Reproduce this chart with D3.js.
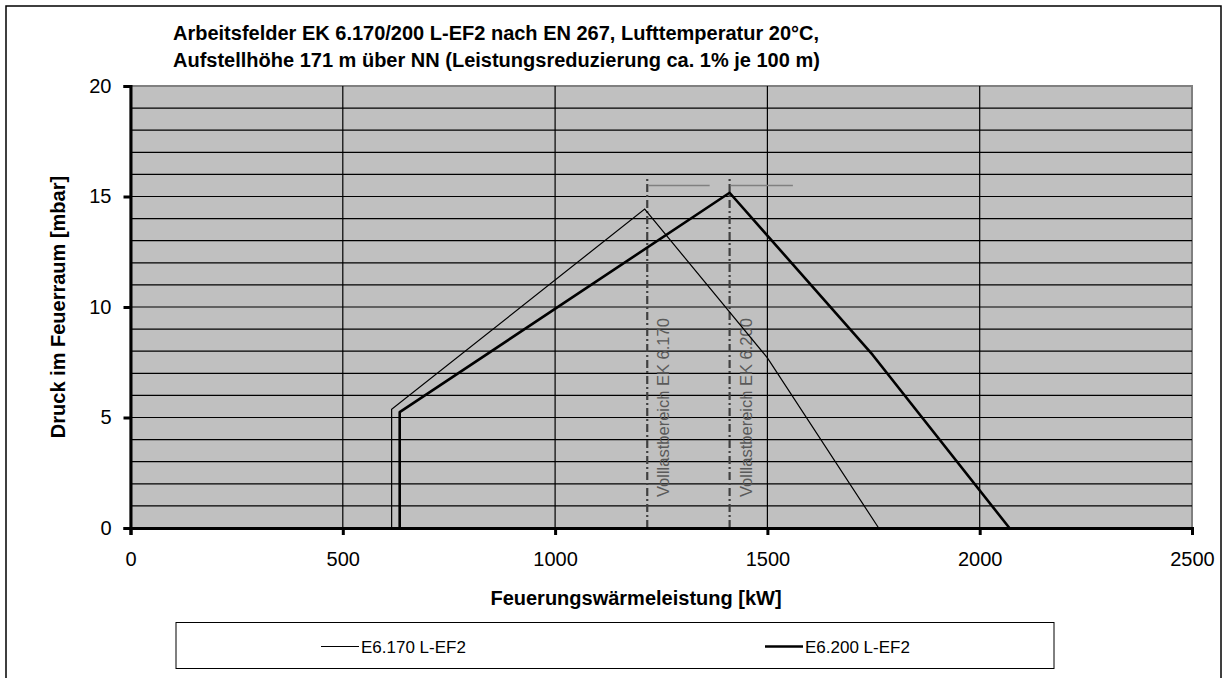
<!DOCTYPE html>
<html><head><meta charset="utf-8">
<script src="https://cdn.jsdelivr.net/npm/d3@7"></script>
<style>body{margin:0;background:#fff;font-family:"Liberation Sans",Arial,sans-serif}</style>
</head><body><svg id="c" width="1225" height="678"></svg>
<script>
const titleLines = ["Arbeitsfelder EK 6.170/200 L-EF2 nach EN 267, Lufttemperatur 20°C,",
  "Aufstellhöhe 171 m über NN (Leistungsreduzierung ca. 1% je 100 m)"];
const xTicks = [0, 500, 1000, 1500, 2000, 2500];
const yTicks = [0, 5, 10, 15, 20];
const yGrid = d3.range(0, 21, 1);
const seriesNames = ["E6.170 L-EF2", "E6.200 L-EF2"];
const e170x = [615, 615, 1211, 1500, 1762];
const e170y = [0, 5.37, 14.43, 7.7, 0];
const e200x = [634, 634, 1411, 1748, 2070];
const e200y = [0, 5.24, 15.17, 7.83, 0];
const fullLoadX = [1217, 1411];
const fullLoadLabels = ["Volllastbereich EK 6.170", "Volllastbereich EK 6.200"];
const fullLoadTop = 15.85;
const capY = 15.5;
const capEnd = [1364, 1560];

const svg = d3.select("#c");
const x = d3.scaleLinear().domain([0, 2500]).range([130.5, 1192]);
const y = d3.scaleLinear().domain([0, 20]).range([528, 86]);

svg.append("rect").attr("x", 6).attr("y", 6).attr("width", 1215).attr("height", 700)
  .attr("fill", "#fff").attr("stroke", "#000").attr("stroke-width", 1.5);

svg.append("rect").attr("x", x(0)).attr("y", y(20)).attr("width", x(2500) - x(0)).attr("height", y(0) - y(20))
  .attr("fill", "#c0c0c0").attr("stroke", "#808080").attr("stroke-width", 2);

const g = svg.append("g");
g.selectAll(".hg").data(yGrid.filter(d => d > 0 && d < 20)).join("line")
  .attr("x1", x(0)).attr("x2", x(2500)).attr("y1", d => y(d)).attr("y2", d => y(d))
  .attr("stroke", "#000").attr("stroke-width", 1.2);
g.selectAll(".vg").data(xTicks.filter(d => d > 0 && d < 2500)).join("line")
  .attr("x1", d => x(d)).attr("x2", d => x(d)).attr("y1", y(0)).attr("y2", y(20))
  .attr("stroke", "#000").attr("stroke-width", 1.2);

fullLoadX.forEach((fx, i) => {
  svg.append("line").attr("x1", x(fx)).attr("x2", x(fx)).attr("y1", y(0)).attr("y2", y(fullLoadTop))
    .attr("stroke", "#404040").attr("stroke-width", 2.2).attr("stroke-dasharray", "8,3,2,3");
  svg.append("line").attr("x1", x(fx) + 1).attr("x2", x(capEnd[i])).attr("y1", y(capY)).attr("y2", y(capY))
    .attr("stroke", "#808080").attr("stroke-width", 1.5);
  svg.append("text").attr("transform", `translate(${x(fx) + 22},${y(0) - 31}) rotate(-90)`)
    .attr("font-size", 16.5).attr("fill", "#5a5a5a").text(fullLoadLabels[i]);
});

const line = d3.line().x(d => x(d[0])).y(d => y(d[1]));
svg.append("path").datum(e170x.map((v, i) => [v, e170y[i]])).attr("d", line)
  .attr("fill", "none").attr("stroke", "#000").attr("stroke-width", 1.2);
svg.append("path").datum(e200x.map((v, i) => [v, e200y[i]])).attr("d", line)
  .attr("fill", "none").attr("stroke", "#000").attr("stroke-width", 2.6).attr("stroke-linejoin", "round");

const fmt = d3.format("d");
const ya = svg.append("g").attr("transform", `translate(${x(0)},0)`)
  .call(d3.axisLeft(y).tickValues(yTicks).tickFormat(fmt).tickSize(7).tickPadding(12));
ya.select(".domain").attr("stroke-width", 3);
ya.selectAll(".tick line").attr("stroke-width", 3);
ya.selectAll("text").attr("font-size", 20).attr("font-family", "Liberation Sans, Arial").attr("fill", "#000");
const xa = svg.append("g").attr("transform", `translate(0,${y(0)})`)
  .call(d3.axisBottom(x).tickValues(xTicks).tickFormat(fmt).tickSize(7).tickPadding(17));
xa.select(".domain").attr("stroke-width", 3);
xa.selectAll(".tick line").attr("stroke-width", 3);
xa.selectAll("text").attr("font-size", 20).attr("font-family", "Liberation Sans, Arial").attr("fill", "#000");

svg.append("g").selectAll("text").data(titleLines).join("text")
  .attr("x", 173).attr("y", (d, i) => 40 + i * 27).attr("font-size", 20).attr("font-weight", "bold").text(d => d);
svg.append("text").attr("x", 636).attr("y", 605).attr("text-anchor", "middle")
  .attr("font-size", 20).attr("font-weight", "bold").text("Feuerungswärmeleistung [kW]");
svg.append("text").attr("transform", "translate(65,307) rotate(-90)").attr("text-anchor", "middle")
  .attr("font-size", 20).attr("font-weight", "bold").text("Druck im Feuerraum [mbar]");

svg.append("rect").attr("x", 176).attr("y", 622.5).attr("width", 878).attr("height", 46)
  .attr("fill", "#fff").attr("stroke", "#000").attr("stroke-width", 1);
const lg = [{x1: 321, w: 1.2}, {x1: 765, w: 2.6}];
lg.forEach((l, i) => {
  svg.append("line").attr("x1", l.x1).attr("x2", l.x1 + 38).attr("y1", 646.5).attr("y2", 646.5)
    .attr("stroke", "#000").attr("stroke-width", l.w);
  svg.append("text").attr("x", l.x1 + 40).attr("y", 652.5).attr("font-size", 17).text(seriesNames[i]);
});
</script></body></html>
